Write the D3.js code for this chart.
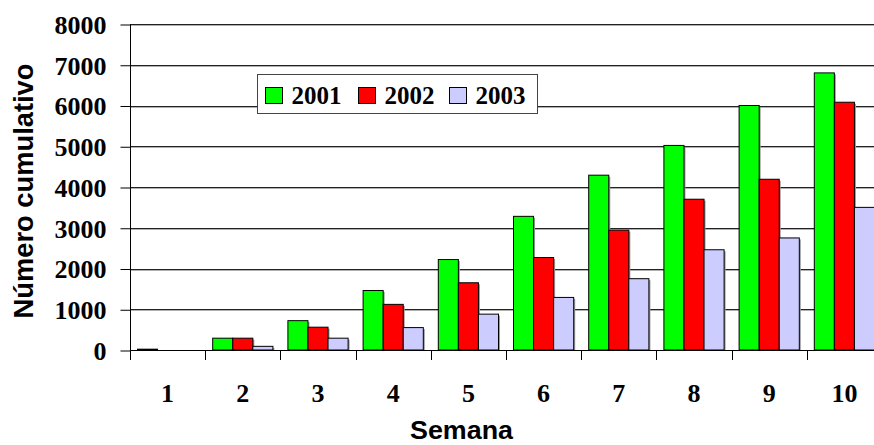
<!DOCTYPE html>
<html>
<head>
<meta charset="utf-8">
<script src="https://cdn.jsdelivr.net/npm/d3@7"></script>
<style>
  body { margin: 0; background: #fff; }
  svg { display: block; }
  .serif { font-family: "Liberation Serif", "Times New Roman", serif; font-weight: bold; }
  .sans { font-family: "Liberation Sans", Arial, sans-serif; font-weight: bold; }
</style>
</head>
<body>
<svg id="chart" width="874" height="445"></svg>
<script>
const weeks = ['1', '2', '3', '4', '5', '6', '7', '8', '9', '10'];
const years = ['2001', '2002', '2003'];
const v2001 = [20, 290, 720, 1460, 2220, 3280, 4290, 5020, 6000, 6800];
const v2002 = [0, 290, 560, 1120, 1650, 2270, 2940, 3700, 4190, 6080];
const v2003 = [0, 90, 290, 550, 880, 1290, 1750, 2460, 2750, 3500];
const yTicks = [0, 1000, 2000, 3000, 4000, 5000, 6000, 7000, 8000];
const colors = ['#00ff00', '#ff0000', '#ccccff'];

const series = [v2001, v2002, v2003];
const rows = weeks.map((w, i) => ({ week: w, values: series.map((s) => s[i]) }));

const svg = d3.select('#chart');
const plotLeft = 130, plotTop = 24, plotBottom = 350;

const x0 = d3.scaleBand().domain(weeks).range([plotLeft, plotLeft + 752]).padding(0);
const x1 = d3.scaleBand().domain(years).range([7.5, x0.bandwidth() - 7.5]).padding(0);
const y = d3.scaleLinear().domain([0, 8000]).range([plotBottom, plotTop]);

// gridlines with a soft shadow underneath
const grid = svg.append('g');
yTicks.filter((t) => t > 0).forEach((t) => {
    grid.append('line')
        .attr('x1', plotLeft).attr('x2', 874)
        .attr('y1', Math.round(y(t)) + 1.5).attr('y2', Math.round(y(t)) + 1.5)
        .attr('stroke', '#b0b0b0').attr('stroke-width', 1);
    grid.append('line')
        .attr('x1', plotLeft).attr('x2', 874)
        .attr('y1', Math.round(y(t)) + 0.5).attr('y2', Math.round(y(t)) + 0.5)
        .attr('stroke', '#222').attr('stroke-width', 1);
});

// bars
const groups = svg.append('g').selectAll('g')
    .data(rows)
    .join('g')
    .attr('transform', (d) => `translate(${x0(d.week)},0)`);

groups.selectAll('rect.shadow')
    .data((d) => d.values.map((v, i) => ({ v, i })))
    .join('rect')
    .attr('class', 'shadow')
    .attr('x', (d) => x1(years[d.i]) + 1.5)
    .attr('y', (d) => y(d.v) + 1.5)
    .attr('width', x1.bandwidth())
    .attr('height', (d) => Math.max(0, plotBottom - y(d.v) - 1.5))
    .attr('fill', (d) => (d.v > 0 ? '#9a9a9a' : 'none'));

groups.selectAll('rect.bar')
    .data((d) => d.values.map((v, i) => ({ v, i })))
    .join('rect')
    .attr('class', 'bar')
    .attr('x', (d) => x1(years[d.i]))
    .attr('y', (d) => y(d.v))
    .attr('width', x1.bandwidth())
    .attr('height', (d) => plotBottom - y(d.v))
    .attr('fill', (d) => colors[d.i])
    .attr('stroke', (d) => (d.v > 0 ? '#000' : 'none'))
    .attr('stroke-width', 1);

// y axis
const yAxis = d3.axisLeft(y).tickValues(yTicks).tickFormat(d3.format('d')).tickSize(10).tickPadding(14);
const yg = svg.append('g')
    .attr('transform', `translate(${plotLeft + 0.5},0.5)`)
    .call(yAxis)
    .attr('font-family', null)
    .attr('font-size', null);
yg.select('.domain').remove();
yg.selectAll('.tick line').attr('stroke', '#000');
yg.selectAll('.tick text')
    .attr('class', 'serif')
    .attr('font-size', 26)
    .attr('fill', '#000')
    .attr('dy', '0.34em');
svg.append('line')
    .attr('x1', plotLeft + 0.5).attr('x2', plotLeft + 0.5)
    .attr('y1', plotTop).attr('y2', plotBottom + 10)
    .attr('stroke', '#000');

// x axis
svg.append('line')
    .attr('x1', plotLeft).attr('x2', 874)
    .attr('y1', plotBottom + 0.5).attr('y2', plotBottom + 0.5)
    .attr('stroke', '#000');
weeks.forEach((w) => {
    svg.append('line')
        .attr('x1', Math.round(x0(w)) + 0.5).attr('x2', Math.round(x0(w)) + 0.5)
        .attr('y1', plotBottom).attr('y2', plotBottom + 10)
        .attr('stroke', '#000');
});
svg.append('g').selectAll('text')
    .data(weeks)
    .join('text')
    .attr('class', 'serif')
    .attr('x', (d) => x0(d) + x0.bandwidth() / 2)
    .attr('y', 402)
    .attr('text-anchor', 'middle')
    .attr('font-size', 26)
    .text((d) => d);

// axis titles
svg.append('text')
    .attr('class', 'sans')
    .attr('x', 410).attr('y', 439)
    .attr('font-size', 26)
    .attr('textLength', 103)
    .attr('lengthAdjust', 'spacingAndGlyphs')
    .text('Semana');

svg.append('text')
    .attr('class', 'sans')
    .attr('transform', 'translate(33,191) rotate(-90)')
    .attr('text-anchor', 'middle')
    .attr('font-size', 27)
    .attr('textLength', 255)
    .attr('lengthAdjust', 'spacingAndGlyphs')
    .text('Número cumulativo');

// legend
const legend = svg.append('g');
legend.append('rect')
    .attr('x', 257.5).attr('y', 74.5)
    .attr('width', 280).attr('height', 39)
    .attr('fill', '#fff').attr('stroke', '#444');
const legendX = [265.5, 358.5, 449.5];
years.forEach((yr, i) => {
    legend.append('rect')
        .attr('x', legendX[i]).attr('y', 87.5)
        .attr('width', 17).attr('height', 16)
        .attr('fill', colors[i]).attr('stroke', '#000');
    legend.append('text')
        .attr('class', 'serif')
        .attr('x', legendX[i] + 26).attr('y', 104)
        .attr('font-size', 25)
        .text(yr);
});
</script>
</body>
</html>
